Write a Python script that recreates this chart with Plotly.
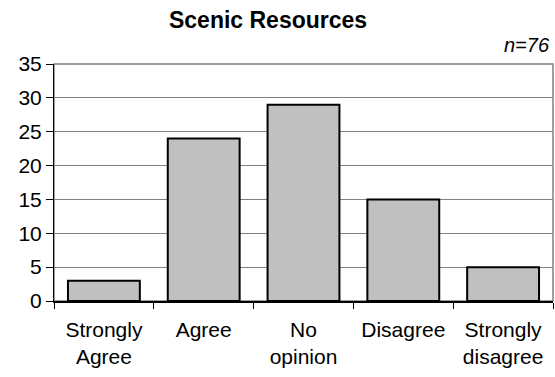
import plotly.graph_objects as go

categories = ["Strongly<br>Agree", "Agree", "No<br>opinion", "Disagree", "Strongly<br>disagree"]
counts = [3, 24, 29, 15, 5]
y_ticks = [0, 5, 10, 15, 20, 25, 30, 35]

fig = go.Figure()
fig.add_trace(go.Bar(
    x=categories, y=counts,
    marker=dict(color="#C0C0C0", line=dict(color="black", width=2)),
))

fig.update_layout(
    width=555, height=377,
    margin=dict(l=54, r=2, t=64, b=76),
    paper_bgcolor="white", plot_bgcolor="white",
    font=dict(family="Liberation Sans, Arial", size=21, color="black"),
    bargap=0.28,
    showlegend=False,
    title=dict(text="<b>Scenic Resources</b>", x=0.483, xanchor="center",
               y=0.947, yanchor="middle", font=dict(size=23)),
    annotations=[dict(text="<i>n=76</i>", xref="paper", yref="paper",
                      x=0.998, y=1.08, xanchor="right", yanchor="middle",
                      showarrow=False, font=dict(size=20))],
)
fig.update_xaxes(
    showline=True, linecolor="black", linewidth=1.5,
    ticks="outside", tickson="boundaries", ticklen=6, tickcolor="black",
    ticklabelstandoff=9,
    showgrid=False,
)
fig.update_yaxes(
    range=[0, 35], tickvals=y_ticks,
    showline=True, linecolor="black", linewidth=1,
    ticks="outside", ticklen=7, tickcolor="black",
    showgrid=True, gridcolor="#808080", gridwidth=1,
    zeroline=False,
)
# gray frame on top and right
fig.add_shape(type="rect", xref="paper", yref="paper", x0=0, y0=0, x1=1, y1=1,
              line=dict(color="#808080", width=1.5), layer="below")

# the page's default body margin pushes the chart off the window, drop it
fig.write_html("out.html", config={"displayModeBar": False},
               post_script="document.body.style.margin='0';")
